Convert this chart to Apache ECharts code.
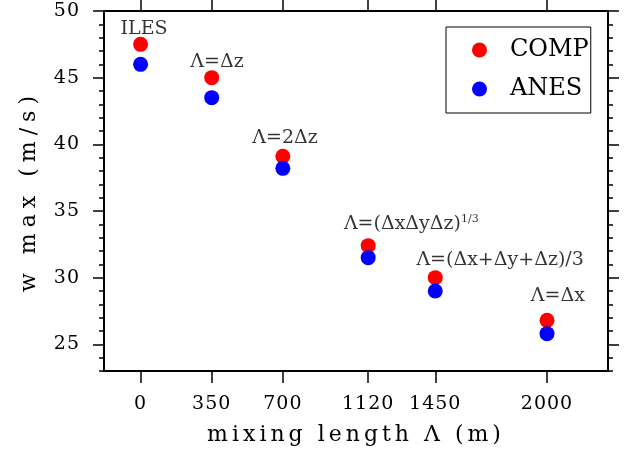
<!DOCTYPE html>
<html>
<head>
<meta charset="utf-8">
<script src="https://cdn.jsdelivr.net/npm/echarts@6/dist/echarts.min.js"></script>
<style>html,body{margin:0;padding:0;background:#fff;}#c{width:628px;height:457px;}</style>
</head>
<body>
<div id="c"></div>
<script>
// ---- data ----
const mixingLength = [0, 350, 700, 1120, 1450, 2000];
const compValues = [47.5, 45.0, 39.1, 32.4, 30.0, 26.8];
const anesValues = [46.0, 43.5, 38.2, 31.5, 29.0, 25.8];
const xTickValues = [0, 350, 700, 1120, 1450, 2000];
const yTickValues = [25, 30, 35, 40, 45, 50];
const annotationText = ['ILES', 'Λ=Δz', 'Λ=2Δz', 'Λ=(ΔxΔyΔz)', 'Λ=(Δx+Δy+Δz)/3', 'Λ=Δx'];
const annotationSup = ['', '', '', '1/3', '', ''];
const annotationX = [17, 376, 711, 1332, 1769, 2053];
const annotationY = [48.67, 46.16, 40.49, 34.0, 31.31, 28.61];

// letter spacing for text drawn with a tagged font family (falls back to the real font)
(function () {
  const P = CanvasRenderingContext2D.prototype;
  if (!('letterSpacing' in P)) return;
  const orig = P.fillText;
  P.fillText = function (t, x, y, m) {
    const r = /lsp(\d+)/.exec(this.font);
    this.letterSpacing = r ? (parseInt(r[1], 10) / 10) + 'px' : '0px';
    if (m === undefined) orig.call(this, t, x, y); else orig.call(this, t, x, y, m);
    this.letterSpacing = '0px';
  };
})();

const SERIF = "'DejaVu Serif'";
const AXIS = '#000';
const chart = echarts.init(document.getElementById('c'), null, {renderer: 'canvas'});

const minorY = [];
for (let v = 23; v <= 50; v++) minorY.push(v);

const baseX = {type: 'value', min: -180, max: 2300, splitLine: {show: false},
  axisLine: {onZero: false, lineStyle: {color: AXIS, width: 2}}};
const baseY = {type: 'value', min: 23, max: 50, splitLine: {show: false},
  axisLine: {onZero: false, lineStyle: {color: AXIS, width: 2}}};
const plain = (v) => String(v);

chart.setOption({
  animation: false,
  backgroundColor: '#fff',
  grid: {left: 104, right: 20, top: 11, height: 360},
  legend: {
    data: ['COMP', 'ANES'],
    orient: 'vertical', left: 446, top: 27,
    padding: [11, 2, 12, 26], itemGap: 15,
    itemWidth: 15, itemHeight: 15,
    borderColor: '#000', borderWidth: 1, borderRadius: 0,
    backgroundColor: '#fff',
    textStyle: {fontFamily: SERIF, fontSize: 24, color: '#000', padding: [0, 0, 0, 18]}
  },
  xAxis: [
    Object.assign({}, baseX, {
      position: 'bottom',
      name: 'mixing length Λ (m)', nameLocation: 'middle', nameGap: 53,
      nameTextStyle: {fontFamily: "'lsp40', 'DejaVu Serif'", fontSize: 22, color: '#000'},
      axisTick: {show: true, inside: false, length: 12, customValues: xTickValues, lineStyle: {color: AXIS, width: 1.5}},
      axisLabel: {show: true, margin: 24, customValues: xTickValues, formatter: plain, fontFamily: "'lsp10', 'DejaVu Serif'", fontSize: 19, color: '#000'}
    }),
    Object.assign({}, baseX, {
      position: 'top',
      axisTick: {show: true, inside: false, length: 11, customValues: xTickValues, lineStyle: {color: AXIS, width: 1.5}},
      axisLabel: {show: false}
    })
  ],
  yAxis: [
    Object.assign({}, baseY, {
      position: 'left',
      name: 'w max (m/s)', nameLocation: 'middle', nameGap: 64, nameRotate: 90,
      nameTextStyle: {fontFamily: "'lsp60', 'DejaVu Serif'", fontSize: 22, color: '#000'},
      axisTick: {show: true, inside: false, length: 11, customValues: yTickValues, lineStyle: {color: AXIS, width: 1.5}},
      axisLabel: {show: true, margin: 24, customValues: yTickValues, formatter: plain, fontFamily: "'lsp10', 'DejaVu Serif'", fontSize: 19, color: '#000'}
    }),
    Object.assign({}, baseY, {
      position: 'left',
      axisTick: {show: true, inside: false, length: 5, customValues: minorY, lineStyle: {color: AXIS, width: 1.5}},
      axisLabel: {show: false}
    }),
    Object.assign({}, baseY, {
      position: 'right',
      axisTick: {show: true, inside: false, length: 11, customValues: yTickValues, lineStyle: {color: AXIS, width: 1.5}},
      axisLabel: {show: false}
    }),
    Object.assign({}, baseY, {
      position: 'right',
      axisTick: {show: true, inside: false, length: 5, customValues: minorY, lineStyle: {color: AXIS, width: 1.5}},
      axisLabel: {show: false}
    })
  ],
  series: [
    {
      name: 'COMP', type: 'scatter', symbol: 'circle', symbolSize: 15,
      itemStyle: {color: '#ff0000', opacity: 1},
      data: mixingLength.map((x, i) => [x, compValues[i]])
    },
    {
      name: 'ANES', type: 'scatter', symbol: 'circle', symbolSize: 15,
      itemStyle: {color: '#0000ff', opacity: 1},
      data: mixingLength.map((x, i) => [x, anesValues[i]])
    },
    {
      name: 'labels', type: 'scatter', symbolSize: 0, silent: true,
      data: annotationText.map((t, i) => ({value: [annotationX[i], annotationY[i]], name: t})),
      label: {
        show: true, position: 'inside', align: 'center', verticalAlign: 'middle',
        formatter: (p) => '{a|' + annotationText[p.dataIndex] + '}' + (annotationSup[p.dataIndex] ? '{s|' + annotationSup[p.dataIndex] + '}' : ''),
        rich: {
          a: {fontFamily: SERIF, fontSize: 19, color: '#000'},
          s: {fontFamily: SERIF, fontSize: 11, color: '#000', padding: [0, 0, 10, 0]}
        }
      }
    }
  ]
});
</script>
</body>
</html>
